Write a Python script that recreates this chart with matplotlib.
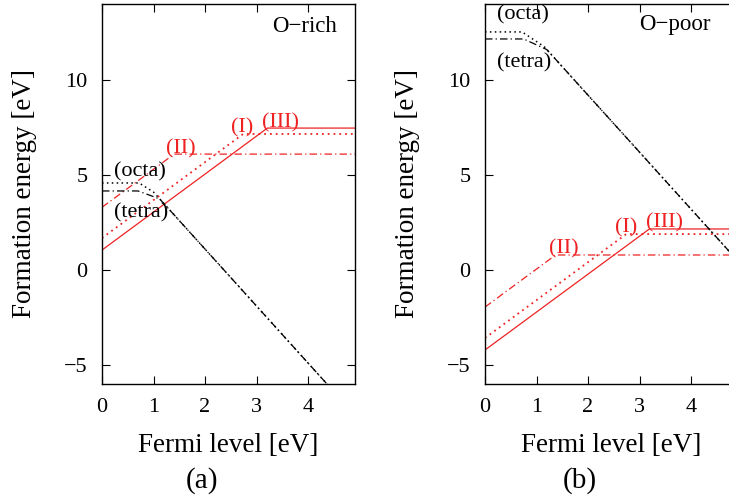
import matplotlib
matplotlib.use("Agg")
import matplotlib.pyplot as plt

plt.rcParams['font.family'] = ['Liberation Serif', 'DejaVu Serif']
plt.rcParams['mathtext.fontset'] = 'stix'

XMAX = 4.91
# Fermi-level breakpoints (eV) and formation energies (eV)
# O-rich panel (a)
rich_solid_x = [0.0, 3.21, XMAX]
rich_solid_y = [1.05, 7.47, 7.47]
rich_dot_x = [0.0, 2.74, XMAX]
rich_dot_y = [1.68, 7.16, 7.16]
rich_dashdot_x = [0.0, 1.40, XMAX]
rich_dashdot_y = [3.30, 6.10, 6.10]
rich_octa_x = [0.0, 0.72, 1.00, XMAX]
rich_octa_y = [4.58, 4.58, 4.10, -7.63]
rich_tetra_x = [0.0, 0.70, 1.12, XMAX]
rich_tetra_y = [4.16, 4.16, 3.74, -7.63]

# O-poor panel (b)
poor_solid_x = [0.0, 3.19, XMAX]
poor_solid_y = [-4.21, 2.16, 2.16]
poor_dot_x = [0.0, 2.74, XMAX]
poor_dot_y = [-3.58, 1.89, 1.89]
poor_dashdot_x = [0.0, 1.37, XMAX]
poor_dashdot_y = [-1.95, 0.79, 0.79]
poor_octa_x = [0.0, 0.72, 1.15, XMAX]
poor_octa_y = [12.53, 12.53, 11.75, 0.47]
poor_tetra_x = [0.0, 0.75, 1.20, XMAX]
poor_tetra_y = [12.16, 12.16, 11.60, 0.47]

x_ticks = [0, 1, 2, 3, 4]
y_ticks = [-5, 0, 5, 10]
y_ticklabels = ['\u22125', '0', '5', '10']

RED = '#ee2222'
BLK = 'black'
DOT = (0, (1, 2.2))
DASHDOT = (0, (6, 2.5, 1, 2.5))

fig = plt.figure(figsize=(7.29, 4.97), dpi=100)
axL = fig.add_axes([102 / 729, 1 - 384 / 497, 253 / 729, 380 / 497])
axR = fig.add_axes([485 / 729, 1 - 384 / 497, 253 / 729, 380 / 497])


def style(ax):
    ax.set_xlim(0, XMAX)
    ax.set_ylim(-6, 14)
    ax.set_xticks(x_ticks)
    ax.set_yticks(y_ticks)
    ax.set_yticklabels(y_ticklabels)
    ax.tick_params(direction='in', top=True, right=True, length=6, width=0.8,
                   labelsize=16)
    ax.tick_params(axis='x', pad=10)
    ax.tick_params(axis='y', pad=10.5)
    for s in ax.spines.values():
        s.set_linewidth(1.0)
    ax.set_xlabel('Fermi level [eV]', fontsize=19.5)
    ax.set_ylabel('Formation energy [eV]', fontsize=19.5)
    ax.xaxis.set_label_coords(0.5, -0.13)
    ax.yaxis.set_label_coords(-0.255, 0.5)


def draw(ax, sx, sy, dx, dy, ddx, ddy, ox, oy, tx, ty):
    ax.plot(sx, sy, color=RED, lw=0.9, linestyle='-')
    ax.plot(dx, dy, color=RED, lw=1.3, linestyle=DOT)
    ax.plot(ddx, ddy, color=RED, lw=0.9, linestyle=DASHDOT)
    ax.plot(ox, oy, color=BLK, lw=1.1, linestyle=DOT)
    ax.plot(tx, ty, color=BLK, lw=0.9, linestyle=DASHDOT)


draw(axL, rich_solid_x, rich_solid_y, rich_dot_x, rich_dot_y,
     rich_dashdot_x, rich_dashdot_y, rich_octa_x, rich_octa_y,
     rich_tetra_x, rich_tetra_y)
draw(axR, poor_solid_x, poor_solid_y, poor_dot_x, poor_dot_y,
     poor_dashdot_x, poor_dashdot_y, poor_octa_x, poor_octa_y,
     poor_tetra_x, poor_tetra_y)

style(axL)
style(axR)

lab_kw = dict(ha='center', va='center', fontsize=16)
# panel (a) labels
axL.text(3.93, 12.79, 'O\u2212rich', ha='center', va='center', fontsize=16.5)
axL.text(0.73, 5.16, '(octa)', **lab_kw)
axL.text(0.75, 3.03, '(tetra)', **lab_kw)
axL.text(1.52, 6.37, '(II)', color=RED, **lab_kw)
axL.text(2.72, 7.50, '(I)', color=RED, **lab_kw)
axL.text(3.47, 7.76, '(III)', color=RED, **lab_kw)
# panel (b) labels
axR.text(3.68, 12.90, 'O\u2212poor', ha='center', va='center', fontsize=16.5)
axR.text(0.745, 13.42, '(octa)', **lab_kw)
axR.text(0.75, 10.92, '(tetra)', **lab_kw)
axR.text(1.53, 1.10, '(II)', color=RED, **lab_kw)
axR.text(2.73, 2.24, '(I)', color=RED, **lab_kw)
axR.text(3.48, 2.50, '(III)', color=RED, **lab_kw)

fig.text(201.7 / 729, 1 - 481 / 497, '(a)', ha='center', va='center', fontsize=21)
fig.text(580 / 729, 1 - 481 / 497, '(b)', ha='center', va='center', fontsize=21)

fig.savefig('out.png', dpi=100)
